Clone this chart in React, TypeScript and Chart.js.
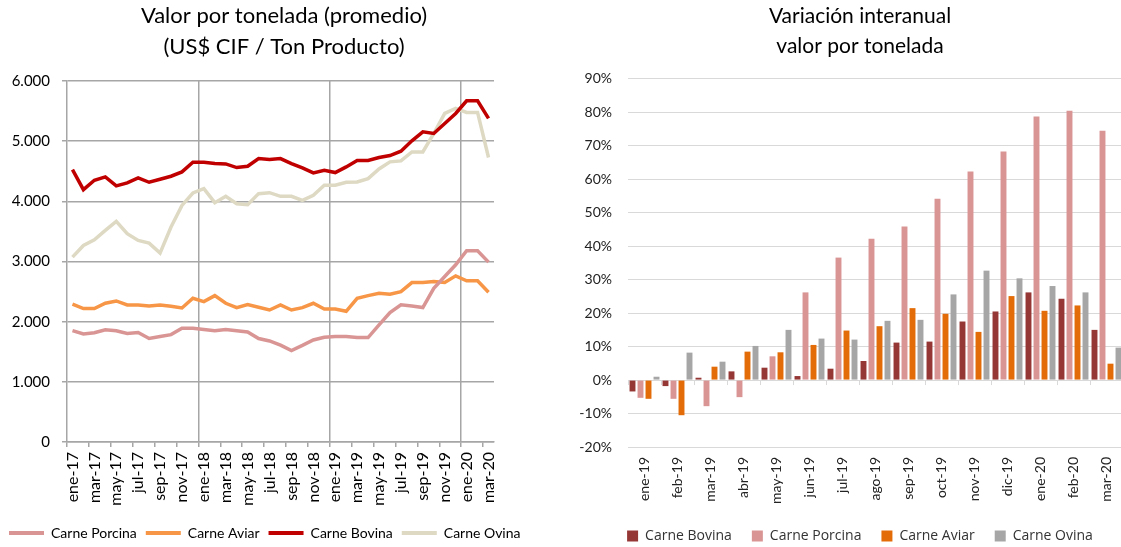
import React, { useEffect, useRef } from 'react';
import { Chart, registerables } from 'chart.js';

Chart.register(...registerables);

// ---------- Left chart: Valor por tonelada (US$ CIF / Ton) ----------
const months = [
  'ene-17', 'feb-17', 'mar-17', 'abr-17', 'may-17', 'jun-17', 'jul-17', 'ago-17', 'sep-17', 'oct-17', 'nov-17', 'dic-17',
  'ene-18', 'feb-18', 'mar-18', 'abr-18', 'may-18', 'jun-18', 'jul-18', 'ago-18', 'sep-18', 'oct-18', 'nov-18', 'dic-18',
  'ene-19', 'feb-19', 'mar-19', 'abr-19', 'may-19', 'jun-19', 'jul-19', 'ago-19', 'sep-19', 'oct-19', 'nov-19', 'dic-19',
  'ene-20', 'feb-20', 'mar-20',
];

const porcina = [
  1850, 1795, 1815, 1865, 1850, 1805, 1820, 1720, 1755, 1785, 1890, 1890,
  1870, 1850, 1870, 1850, 1830, 1720, 1680, 1610, 1520, 1605, 1695, 1740,
  1755, 1755, 1735, 1735, 1945, 2150, 2280, 2260, 2235, 2555, 2750, 2945,
  3180, 3180, 2990,
];

const aviar = [
  2290, 2217, 2217, 2306, 2344, 2278, 2278, 2261, 2278, 2256, 2228, 2389,
  2333, 2433, 2306, 2233, 2283, 2239, 2194, 2278, 2194, 2233, 2306, 2211,
  2211, 2172, 2389, 2433, 2472, 2456, 2500, 2650, 2650, 2667, 2650, 2761,
  2678, 2678, 2489,
];

const bovina = [
  4528, 4194, 4350, 4406, 4256, 4306, 4389, 4317, 4367, 4417, 4489, 4650,
  4650, 4628, 4622, 4561, 4583, 4711, 4694, 4711, 4628, 4556, 4472, 4517,
  4478, 4572, 4678, 4678, 4728, 4761, 4833, 5006, 5156, 5128, 5294, 5461,
  5672, 5672, 5378,
];

const ovina = [
  3072, 3267, 3361, 3517, 3667, 3461, 3350, 3306, 3139, 3572, 3933, 4139,
  4211, 3978, 4083, 3961, 3944, 4128, 4144, 4083, 4083, 4017, 4100, 4267,
  4267, 4317, 4322, 4378, 4539, 4656, 4672, 4822, 4822, 5128, 5461, 5544,
  5478, 5478, 4728,
];

const yLeftTicks = [0, 1000, 2000, 3000, 4000, 5000, 6000];

// ---------- Right chart: Variación interanual (%) ----------
const yoyMonths = [
  'ene-19', 'feb-19', 'mar-19', 'abr-19', 'may-19', 'jun-19', 'jul-19', 'ago-19',
  'sep-19', 'oct-19', 'nov-19', 'dic-19', 'ene-20', 'feb-20', 'mar-20',
];
const yoyBovina = [-3.4, -1.8, 0.7, 2.6, 3.7, 1.2, 3.4, 5.7, 11.2, 11.5, 17.5, 20.5, 26.2, 24.3, 15.0];
const yoyPorcina = [-5.3, -5.6, -7.8, -5.1, 7.1, 26.2, 36.6, 42.2, 45.9, 54.2, 62.3, 68.3, 78.8, 80.5, 74.5];
const yoyAviar = [-5.6, -10.5, 4.0, 8.5, 8.3, 10.5, 14.8, 16.1, 21.5, 19.8, 14.4, 25.1, 20.7, 22.3, 4.9];
const yoyOvina = [1.0, 8.2, 5.5, 10.2, 15.0, 12.4, 12.1, 17.7, 18.0, 25.6, 32.7, 30.4, 28.1, 26.2, 9.7];

const fmtThousands = (v: number) => String(v).replace(/\B(?=(\d{3})+(?!\d))/g, '.');

const GRID_L = '#a6a6a6';
const GRID_R = '#d9d9d9';

const zeroTicks = {
  id: 'zeroTicks',
  beforeDatasetsDraw(chart: any) {
    const { ctx, scales } = chart;
    const x = scales.x;
    const y = scales.y;
    const y0 = y.getPixelForValue(0);
    const w = x.getPixelForValue(1) - x.getPixelForValue(0);
    ctx.save();
    ctx.strokeStyle = GRID_R;
    ctx.lineWidth = 1;
    ctx.beginPath();
    for (let i = 0; i <= yoyMonths.length; i++) {
      const px = Math.round(x.getPixelForValue(0) - w / 2 + i * w) + 0.5;
      ctx.moveTo(px, y0);
      ctx.lineTo(px, y0 + 5);
    }
    ctx.stroke();
    ctx.restore();
  },
};

export default function App() {
  const leftRef = useRef<HTMLCanvasElement>(null);
  const rightRef = useRef<HTMLCanvasElement>(null);

  useEffect(() => {
    const lineDs = (label: string, data: number[], color: string) => ({
      label,
      data,
      borderColor: color,
      backgroundColor: color,
      pointBorderColor: color,
      pointBorderWidth: 4,
      borderWidth: 3.5,
      pointRadius: 0,
      tension: 0,
    });

    const left = new Chart(leftRef.current as HTMLCanvasElement, {
      type: 'line',
      data: {
        labels: months,
        datasets: [
          lineDs('Carne Porcina', porcina, '#D99594'),
          lineDs('Carne Aviar', aviar, '#F79646'),
          lineDs('Carne Bovina', bovina, '#C00000'),
          lineDs('Carne Ovina', ovina, '#DDD9C3'),
        ],
      },
      options: {
        animation: false,
        responsive: false,
        layout: { padding: { top: 0, left: 0, right: 0, bottom: -3 } },
        plugins: {
          title: {
            display: true,
            text: ['Valor por tonelada (promedio)', '(US$ CIF / Ton Producto)'],
            color: '#000',
            font: { family: 'Lato', size: 22, weight: 'normal', lineHeight: 1.4 },
            padding: { top: 1, bottom: 18.4 },
          },
          legend: {
            position: 'bottom',
            align: 'start',
            labels: {
              usePointStyle: true,
              pointStyle: 'line',
              pointStyleWidth: 35,
              color: '#000',
              font: { family: 'Lato', size: 14 },
              padding: 9,
            },
          },
          tooltip: { enabled: false },
        },
        scales: {
          x: {
            offset: true,
            grid: {
              offset: true,
              color: (c: any) => ([12, 24, 36].includes(c.index) ? GRID_L : 'rgba(0,0,0,0)'),
              tickColor: (c: any) => (c.index % 2 === 0 ? GRID_L : 'rgba(0,0,0,0)'),
              tickLength: 5,
              lineWidth: 1.5,
            },
            border: { color: GRID_L, width: 1.5 },
            ticks: {
              autoSkip: false,
              minRotation: 90,
              maxRotation: 90,
              padding: 5,
              color: '#000',
              font: { family: 'Lato', size: 16 },
              callback: (_v: any, i: number) => (i % 2 === 0 ? months[i] : ''),
            },
            afterFit: (s: any) => { s.height = 75; },
          },
          y: {
            min: 0,
            max: 6000,
            afterBuildTicks: (s: any) => { s.ticks = yLeftTicks.map((v) => ({ value: v })); },
            ticks: {
              color: '#000',
              font: { family: 'Lato', size: 15 },
              padding: 12,
              callback: (v: any) => fmtThousands(Number(v)),
            },
            grid: { color: GRID_L, lineWidth: 1.5, tickLength: 5 },
            border: { color: GRID_L, width: 1.5 },
            afterFit: (s: any) => { s.width = 67; },
          },
          yR: {
            position: 'right',
            grid: { display: false },
            ticks: { display: false },
            border: { display: false },
            afterFit: (s: any) => { s.width = 74; },
          },
        },
      } as any,
    });

    const right = new Chart(rightRef.current as HTMLCanvasElement, {
      type: 'bar',
      data: {
        labels: yoyMonths,
        datasets: [
          { label: 'Carne Bovina', data: yoyBovina, backgroundColor: '#953735' },
          { label: 'Carne Porcina', data: yoyPorcina, backgroundColor: '#D99594' },
          { label: 'Carne Aviar', data: yoyAviar, backgroundColor: '#E36C09' },
          { label: 'Carne Ovina', data: yoyOvina, backgroundColor: '#A6A6A6' },
        ],
      },
      options: {
        animation: false,
        responsive: false,
        datasets: { bar: { categoryPercentage: 0.97, barPercentage: 0.74 } },
        layout: { padding: { top: 0, left: 0, right: 0, bottom: -6 } },
        plugins: {
          title: {
            display: true,
            text: ['Variación interanual', 'valor por tonelada'],
            color: '#000',
            font: { family: 'Lato', size: 21, weight: 'normal', lineHeight: 1.45 },
            padding: { top: 1, bottom: 17 },
          },
          legend: {
            position: 'bottom',
            labels: {
              boxWidth: 11,
              boxHeight: 11,
              color: '#333',
              font: { family: 'Open Sans', size: 14 },
              padding: 20,
            },
          },
          tooltip: { enabled: false },
        },
        scales: {
          x: {
            grid: { display: false, drawTicks: false },
            border: { display: false },
            ticks: {
              autoSkip: false,
              minRotation: 90,
              maxRotation: 90,
              padding: 10,
              color: '#222',
              font: { family: 'Lato', size: 14 },
            },
            afterFit: (s: any) => { s.height = 62; },
          },
          y: {
            min: -20,
            max: 90,
            ticks: {
              stepSize: 10,
              padding: 16,
              color: '#222',
              font: { family: 'Lato', size: 14 },
              callback: (v: any) => `${v}%`,
            },
            grid: { color: GRID_R, lineWidth: 1, drawTicks: false },
            border: { display: false },
            afterFit: (s: any) => { s.width = 58; },
          },
          yR: {
            position: 'right',
            grid: { display: false },
            ticks: { display: false },
            border: { display: false },
            afterFit: (s: any) => { s.width = 27; },
          },
        },
      } as any,
      plugins: [zeroTicks],
    });

    return () => {
      left.destroy();
      right.destroy();
    };
  }, []);

  return (
    <div
      style={{
        position: 'fixed',
        left: 0,
        top: 0,
        width: 1121,
        height: 547,
        overflow: 'hidden',
        background: '#fff',
      }}
    >
      <canvas ref={leftRef} width={568} height={547} style={{ position: 'absolute', left: 0, top: 0 }} />
      <canvas ref={rightRef} width={580} height={547} style={{ position: 'absolute', left: 570, top: 0 }} />
    </div>
  );
}
